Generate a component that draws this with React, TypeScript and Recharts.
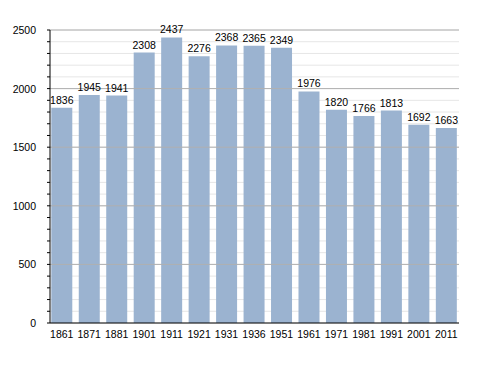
import { BarChart, Bar, XAxis, YAxis, CartesianGrid, ReferenceLine, LabelList } from "recharts";

const years = ["1861", "1871", "1881", "1901", "1911", "1921", "1931", "1936", "1951", "1961", "1971", "1981", "1991", "2001", "2011"];
const population = [1836, 1945, 1941, 2308, 2437, 2276, 2368, 2365, 2349, 1976, 1820, 1766, 1813, 1692, 1663];
const minorTicks = [0, 100, 200, 300, 400, 500, 600, 700, 800, 900, 1000, 1100, 1200, 1300, 1400, 1500, 1600, 1700, 1800, 1900, 2000, 2100, 2200, 2300, 2400, 2500];
const majorTicks = [500, 1000, 1500, 2000, 2500];

const data = years.map((year, i) => ({ year, value: population[i] }));

const font = "'Liberation Sans', Arial, sans-serif";

function YTick(props: any) {
  const { x, y, payload } = props;
  if (payload.value % 500 !== 0) return <g />;
  return (
    <text x={x} y={y} dy={4} textAnchor="end" fontSize={10.5} fontFamily={font} fill="#000">
      {payload.value}
    </text>
  );
}

export default function App() {
  return (
    <div style={{ position: "absolute", left: 0, top: 0, width: 488, height: 373, background: "#fff" }}>
      <BarChart
        width={488}
        height={373}
        data={data}
        margin={{ top: 30, right: 29, bottom: 20, left: 0 }}
        barCategoryGap="12%"
      >
        <CartesianGrid vertical={false} stroke="#e6e6e6" horizontalValues={minorTicks} />
        {majorTicks.map((v) => (
          <ReferenceLine key={v} y={v} stroke="#b0b0b0" strokeWidth={1} />
        ))}
        <XAxis
          dataKey="year"
          tickLine={false}
          axisLine={{ stroke: "#000" }}
          tickMargin={2}
          padding={{ left: -2, right: -1 }}
          tick={{ fontSize: 10.5, fontFamily: font, fill: "#000" }}
          interval={0}
        />
        <YAxis
          width={50}
          domain={[0, 2500]}
          ticks={minorTicks}
          interval={0}
          tickSize={3}
          tickLine={{ stroke: "#000" }}
          axisLine={{ stroke: "#000" }}
          tickMargin={11}
          tick={<YTick />}
        />
        <Bar dataKey="value" fill="#9bb3d0" isAnimationActive={false}>
          <LabelList dataKey="value" position="top" offset={4} fontSize={10.5} fontFamily={font} fill="#000" />
        </Bar>
      </BarChart>
    </div>
  );
}
